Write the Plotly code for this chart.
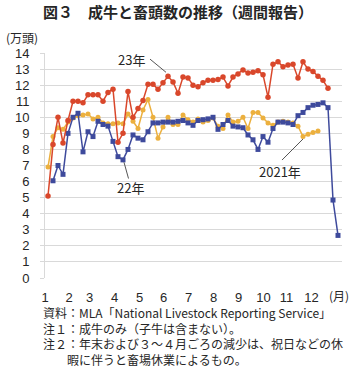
import plotly.graph_objects as go

# ---- data (week index positions along the x axis, values in 万頭) ----
weeks_23 = list(range(0, 57))
cattle_23 = [5.1, 8.3, 10.0, 8.4, 9.8, 11.0, 11.0, 10.9, 11.4, 11.4, 11.4, 11.0, 11.55, 11.75,
             8.45, 9.0, 11.6, 10.0, 10.55, 11.05, 12.05, 12.05, 11.75, 12.15, 12.55, 12.2, 11.5,
             12.5, 12.45, 12.0, 11.9, 12.15, 12.3, 12.3, 12.35, 12.5, 11.95, 12.5, 12.7, 12.95,
             12.75, 12.8, 12.9, 12.65, 11.25, 13.3, 13.45, 13.15, 13.25, 13.3, 12.45, 13.45,
             13.0, 12.85, 12.55, 12.3, 11.8]

weeks_22 = list(range(1, 59))
cattle_22 = [6.05, 7.0, 6.45, 9.0, 10.0, 10.25, 7.85, 9.1, 8.8, 9.75, 9.55, 9.45, 8.5, 7.55,
             7.35, 8.0, 8.9, 8.7, 8.6, 9.1, 9.65, 9.65, 9.7, 9.7, 9.7, 9.75, 9.8, 9.65, 9.5,
             9.8, 9.85, 9.9, 10.0, 9.25, 9.55, 9.8, 9.45, 9.4, 9.35, 8.9, 8.6, 8.0, 8.8, 8.45,
             9.3, 9.7, 9.7, 9.65, 9.55, 10.1, 10.3, 10.6, 10.75, 10.8, 10.9, 10.6, 4.85, 2.65]

weeks_21 = list(range(0, 55))
cattle_21 = [6.9, 8.8, 9.35, 9.25, 9.7, 9.95, 10.1, 10.15, 10.2, 9.9, 10.0, 9.65, 9.6, 9.6,
             9.65, 9.6, 10.2, 9.75, 9.3, 10.45, 11.1, 10.0, 8.7, 9.4, 10.0, 9.55, 9.55, 10.15,
             9.85, 9.7, 9.9, 9.7, 9.8, 9.95, 9.45, 9.3, 10.15, 9.7, 9.75, 10.0, 9.3, 10.3, 10.3,
             9.95, 9.65, 9.5, 9.7, 9.75, 9.7, 9.65, 9.45, 8.8, 8.95, 9.05, 9.15]

month_pos = [-0.6, 4.2, 8.3, 13.3, 18.3, 23.1, 28.1, 33.1, 38.1, 43.1, 47.7, 52.7]
month_labels = ["1", "2", "3", "4", "5", "6", "7", "8", "9", "10", "11", "12"]
y_ticks = list(range(0, 15))

notes = ["資料：MLA「National Livestock Reporting Service」",
         "注１：成牛のみ（子牛は含まない）。",
         "注２：年末および３～４月ごろの減少は、祝日などの休",
         "　　暇に伴うと畜場休業によるもの。"]

FONT = "Noto Sans CJK JP"
NUMFONT = "Liberation Sans"
TXT = "#262626"
RED = "#D9472B"
BLUE = "#3E4A9C"
YEL = "#ECB03E"

fig = go.Figure()
fig.add_trace(go.Scatter(x=weeks_21, y=cattle_21, mode="lines+markers", name="2021年",
                         line=dict(color=YEL, width=1.5),
                         marker=dict(symbol="circle", size=5, color=YEL)))
fig.add_trace(go.Scatter(x=weeks_22, y=cattle_22, mode="lines+markers", name="22年",
                         line=dict(color=BLUE, width=1.5),
                         marker=dict(symbol="square", size=5, color=BLUE)))
fig.add_trace(go.Scatter(x=weeks_23, y=cattle_23, mode="lines+markers", name="23年",
                         line=dict(color=RED, width=1.5),
                         marker=dict(symbol="circle", size=5.5, color=RED)))

W, H = 360, 379
L, R, T, B = 45, 342, 53, 278


def xp(px):
    return (px - L) / (R - L)


def yp(py):
    return (B - py) / (B - T)


ann = []
ann.append(dict(text="<b>図３　成牛と畜頭数の推移（週間報告）</b>", x=xp(178), y=yp(12),
                font=dict(size=15, color=TXT)))
ann.append(dict(text="(万頭)", x=xp(22), y=yp(37), font=dict(size=12, color=TXT)))
ann.append(dict(text="(月)", x=xp(339), y=yp(295), font=dict(size=12, color=TXT)))
ann.append(dict(text="<br>".join(notes), x=xp(40.7), y=yp(335.5), xanchor="left",
                align="left", font=dict(size=12, color=TXT)))
for a in ann:
    a.update(xref="paper", yref="paper", showarrow=False)
    a.setdefault("xanchor", "center")
    a["yanchor"] = "middle"

# series labels (data coordinates)
labels = [("23年", 16.7, 13.6), ("22年", 16.5, 5.63), ("2021年", 46.4, 6.6)]
for t, x, y in labels:
    ann.append(dict(text=t, x=x, y=y, xref="x", yref="y", showarrow=False,
                    xanchor="center", yanchor="middle", font=dict(size=13, color=TXT)))

shapes = [
    dict(type="line", xref="x", yref="y", x0=20.4, y0=13.62, x1=23.6, y1=12.8),
    dict(type="line", xref="x", yref="y", x0=15.2, y0=7.2, x1=16.1, y1=6.19),
    dict(type="line", xref="x", yref="y", x0=46.8, y0=7.34, x1=51.0, y1=8.65),
]
for s in shapes:
    s["line"] = dict(color="#555555", width=1)

fig.update_layout(
    width=W, height=H,
    margin=dict(l=L, r=W - R, t=T, b=H - B, pad=0, autoexpand=False),
    paper_bgcolor="white", plot_bgcolor="white",
    showlegend=False,
    font=dict(family=FONT, color=TXT, size=13),
    annotations=ann, shapes=shapes,
)
fig.update_xaxes(range=[-0.6, 58.8], tickvals=month_pos, ticktext=month_labels,
                 showgrid=False, zeroline=False, showline=False, ticks="",
                 tickfont=dict(family=NUMFONT, size=13, color=TXT), ticklabelstandoff=10)
fig.update_yaxes(range=[0, 14], tickvals=y_ticks, showgrid=True, gridcolor="#D9D9D9",
                 gridwidth=1, zeroline=False, showline=True, linecolor="#D9D9D9",
                 ticks="outside", ticklen=4, tickcolor="#D9D9D9",
                 tickfont=dict(family=NUMFONT, size=13, color=TXT), ticklabelstandoff=8)

fig.write_html("out.html",
               config={"displayModeBar": False},
               post_script="document.body.style.margin='0';document.body.style.padding='0';")
